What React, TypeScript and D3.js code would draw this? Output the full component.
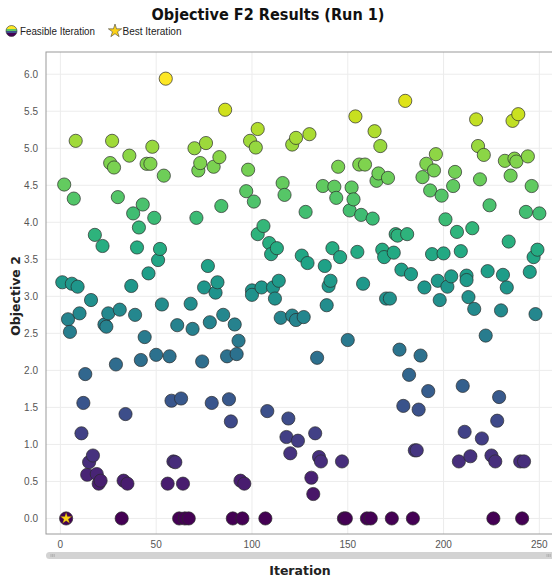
import React from "react";
import * as d3 from "d3";

// iteration number and objective 2 value of every feasible iteration
const iterations = [
    55, 86, 103, 8, 27, 99, 102, 121, 123, 48, 70, 76, 36, 26, 28, 45, 47, 73, 72, 83, 80, 98, 54, 2, 7, 30,
    116, 117, 97, 101, 84, 43, 38, 49, 71, 41, 18, 22, 40, 52, 51, 103, 106, 109, 113, 110, 77, 46, 1, 6, 9,
    37, 75, 82, 81, 105, 111, 114, 100,
    180, 154, 217, 239, 236, 164, 130, 167, 218, 221, 196, 191, 195, 189, 206, 205, 145, 156, 159, 166, 165,
    171, 232, 237, 238, 244, 219, 235, 246, 137, 143, 144, 152, 153, 151, 157, 163, 193, 199, 224, 128, 201,
    207, 215, 243, 250, 175, 176, 181, 234, 249, 247, 126, 129, 142, 146, 138, 155, 168, 169, 174, 194, 200,
    209, 178, 183, 204, 212, 223, 231, 245, 141, 140, 158, 197, 202, 190, 233, 212,
    16, 4, 5, 10, 23, 24, 25, 31, 39, 44, 53, 61, 68, 69, 78, 85, 91, 93, 100, 112, 115, 121, 123, 29, 42,
    50, 57, 74, 87, 92, 13, 12, 34, 58, 63, 79, 88, 89, 108, 119, 11, 118, 124, 120, 17, 15, 59, 60, 14, 19,
    21, 20, 33, 35, 56, 64, 94, 96,
    3, 32, 62, 65, 67, 90, 95, 107,
    139, 127, 170, 172, 198, 213, 216, 230, 248, 150, 134, 177, 188, 222, 182, 192, 210, 229, 179, 187, 228,
    133, 211, 220, 135, 136, 147, 185, 186, 208, 214, 225, 227, 240, 242, 131, 132,
    148, 149, 160, 162, 173, 184, 226, 241,
];

const objective2 = [
    5.94, 5.52, 5.26, 5.1, 5.1, 5.1, 5.01, 5.05, 5.14, 5.02, 5.0, 5.07, 4.9, 4.8, 4.74, 4.79, 4.79, 4.8, 4.7,
    4.88, 4.75, 4.71, 4.63, 4.51, 4.32, 4.34, 4.53, 4.37, 4.42, 4.28, 4.22, 4.24, 4.12, 4.06, 4.06, 3.93, 3.83,
    3.68, 3.66, 3.64, 3.49, 3.84, 3.95, 3.72, 3.65, 3.57, 3.41, 3.31, 3.19, 3.17, 3.13, 3.14, 3.12, 3.19, 3.05,
    3.12, 3.12, 3.21, 3.08,
    5.64, 5.43, 5.39, 5.46, 5.37, 5.23, 5.19, 5.03, 5.03, 4.91, 4.92, 4.79, 4.7, 4.61, 4.68, 4.49, 4.75, 4.78,
    4.78, 4.66, 4.56, 4.6, 4.83, 4.86, 4.82, 4.89, 4.58, 4.63, 4.49, 4.49, 4.48, 4.33, 4.47, 4.31, 4.16, 4.1,
    4.05, 4.43, 4.36, 4.23, 4.14, 4.04, 3.87, 3.92, 4.14, 4.12, 3.84, 3.82, 3.84, 3.74, 3.63, 3.53, 3.55, 3.45,
    3.65, 3.53, 3.41, 3.6, 3.63, 3.53, 3.59, 3.57, 3.58, 3.61, 3.36, 3.3, 3.27, 3.28, 3.34, 3.29, 3.33, 3.21,
    3.14, 3.17, 3.21, 3.13, 3.12, 3.12, 3.22,
    2.95, 2.69, 2.52, 2.77, 2.62, 2.59, 2.77, 2.82, 2.75, 2.45, 2.89, 2.61, 2.9, 2.56, 2.65, 2.75, 2.62, 2.4,
    3.02, 2.97, 2.71, 2.74, 2.68, 2.08, 2.14, 2.21, 2.19, 2.12, 2.19, 2.22, 1.95, 1.56, 1.41, 1.59, 1.62, 1.56,
    1.61, 1.31, 1.45, 1.35, 1.15, 1.1, 1.05, 0.88, 0.85, 0.76, 0.77, 0.76, 0.59, 0.6, 0.51, 0.47, 0.51, 0.47,
    0.47, 0.47, 0.51, 0.47,
    0, 0, 0, 0, 0, 0, 0, 0,
    2.88, 2.72, 2.97, 2.97, 2.95, 2.99, 2.83, 2.81, 2.76, 2.41, 2.17, 2.28, 2.2, 2.47, 1.94, 1.72, 1.79, 1.64,
    1.52, 1.47, 1.32, 1.15, 1.17, 1.08, 0.83, 0.77, 0.77, 0.92, 0.92, 0.77, 0.84, 0.85, 0.77, 0.77, 0.77, 0.55,
    0.33,
    0, 0, 0, 0, 0, 0, 0, 0,
];

const bestIteration = 3;
const bestValue = 0;

const xTicks = [0, 50, 100, 150, 200, 250];
const yTicks = [0, 0.5, 1, 1.5, 2, 2.5, 3, 3.5, 4, 4.5, 5, 5.5, 6];
const legendLabels = ["Feasible Iteration", "Best Iteration"];

const W = 552;
const H = 581;
const plot = { left: 46, top: 52, right: 553, bottom: 534 };

const App = () => {
    const x = d3.scaleLinear().domain([-7.5, 256.6]).range([plot.left, plot.right - 1]);
    const y = d3.scaleLinear().domain([-0.21, 6.3]).range([plot.bottom, plot.top]);
    const color = d3
        .scaleSequential(d3.interpolateViridis)
        .domain([0, d3.max(objective2) as number]);

    const points = iterations
        .map((it, i) => ({ it, v: objective2[i] }))
        .sort((a, b) => a.it - b.it);

    const star = d3.symbol().type(d3.symbolStar);
    const font = "'Liberation Sans', Arial, sans-serif";
    const boldFont = "'DejaVu Sans', Verdana, sans-serif";

    return (
        <div style={{ position: "absolute", left: 0, top: 0 }}>
            <svg width={W} height={H} style={{ display: "block", background: "#fff" }}>
                <defs>
                    <linearGradient id="legendGrad" x1="0" y1="0" x2="0" y2="1">
                        <stop offset="0" stopColor="#fde725" />
                        <stop offset="0.3" stopColor="#fde725" />
                        <stop offset="0.3" stopColor="#5ec962" />
                        <stop offset="0.5" stopColor="#5ec962" />
                        <stop offset="0.5" stopColor="#3b528b" />
                        <stop offset="0.72" stopColor="#3b528b" />
                        <stop offset="0.72" stopColor="#440154" />
                        <stop offset="1" stopColor="#440154" />
                    </linearGradient>
                    <clipPath id="plotClip">
                        <rect x={plot.left} y={plot.top} width={plot.right - plot.left} height={plot.bottom - plot.top} />
                    </clipPath>
                </defs>

                <text
                    x={268}
                    y={20}
                    textAnchor="middle"
                    fontFamily={boldFont}
                    fontWeight="bold"
                    fontSize={15.5}
                    textLength={233}
                    lengthAdjust="spacingAndGlyphs"
                    fill="#111"
                >
                    Objective F2 Results (Run 1)
                </text>

                {/* legend */}
                <circle cx={11.5} cy={31} r={5.5} fill="url(#legendGrad)" stroke="#333" strokeWidth={0.6} />
                <text
                    x={20}
                    y={34.5}
                    fontFamily={font}
                    fontSize={10}
                    textLength={75}
                    lengthAdjust="spacingAndGlyphs"
                    fill="#222"
                >
                    {legendLabels[0]}
                </text>
                <path
                    d={star.size(55)() as string}
                    transform="translate(115,31)"
                    fill="#fcd116"
                    stroke="#444"
                    strokeWidth={0.6}
                />
                <text
                    x={122.5}
                    y={34.5}
                    fontFamily={font}
                    fontSize={10}
                    textLength={59}
                    lengthAdjust="spacingAndGlyphs"
                    fill="#222"
                >
                    {legendLabels[1]}
                </text>

                {/* grid */}
                {xTicks.map((t) => (
                    <line key={"gx" + t} x1={x(t)} x2={x(t)} y1={plot.top} y2={plot.bottom} stroke="#ececec" />
                ))}
                {yTicks.map((t) => (
                    <line key={"gy" + t} x1={plot.left} x2={plot.right} y1={y(t)} y2={y(t)} stroke="#ececec" />
                ))}

                <rect
                    x={plot.left}
                    y={plot.top}
                    width={plot.right - plot.left}
                    height={plot.bottom - plot.top}
                    fill="none"
                    stroke="#9a9a9a"
                    strokeWidth={1}
                />

                {/* tick labels */}
                {yTicks.map((t) => (
                    <text
                        key={"ty" + t}
                        x={38}
                        y={y(t) + 3.5}
                        textAnchor="end"
                        fontFamily={font}
                        fontSize={10}
                        fill="#555"
                    >
                        {t.toFixed(1)}
                    </text>
                ))}
                {xTicks.map((t) => (
                    <text
                        key={"tx" + t}
                        x={x(t)}
                        y={548}
                        textAnchor="middle"
                        fontFamily={font}
                        fontSize={10}
                        fill="#555"
                    >
                        {t}
                    </text>
                ))}

                {/* points */}
                <g clipPath="url(#plotClip)">
                    {points.map((p, i) => (
                        <circle
                            key={i}
                            cx={x(p.it)}
                            cy={y(p.v)}
                            r={6.6}
                            fill={color(p.v)}
                            stroke="#2b2b2b"
                            strokeWidth={0.7}
                        />
                    ))}
                    <path
                        d={star.size(40)() as string}
                        transform={`translate(${x(bestIteration)},${y(bestValue)})`}
                        fill="#fcd116"
                        stroke="#6b5a00"
                        strokeWidth={0.3}
                    />
                </g>

                {/* scrollbar */}
                <rect x={plot.left} y={552} width={W - plot.left + 6} height={7} rx={3.5} fill="#d3d3d3" />
                {[0, 1, 2].map((k) => (
                    <line
                        key={"gl" + k}
                        x1={51 + k * 1.6}
                        x2={51 + k * 1.6}
                        y1={554}
                        y2={557}
                        stroke="#9a9a9a"
                        strokeWidth={0.6}
                    />
                ))}
                {[0, 1, 2].map((k) => (
                    <line
                        key={"gr" + k}
                        x1={547 + k * 1.6}
                        x2={547 + k * 1.6}
                        y1={554}
                        y2={557}
                        stroke="#9a9a9a"
                        strokeWidth={0.6}
                    />
                ))}

                {/* axis titles */}
                <text
                    x={300}
                    y={575}
                    textAnchor="middle"
                    fontFamily={boldFont}
                    fontWeight="bold"
                    fontSize={12.5}
                    fill="#222"
                >
                    Iteration
                </text>
                <text
                    transform={`translate(20,${296}) rotate(-90)`}
                    textAnchor="middle"
                    fontFamily={boldFont}
                    fontWeight="bold"
                    fontSize={12.5}
                    fill="#222"
                >
                    Objective 2
                </text>
            </svg>
        </div>
    );
};

export default App;
